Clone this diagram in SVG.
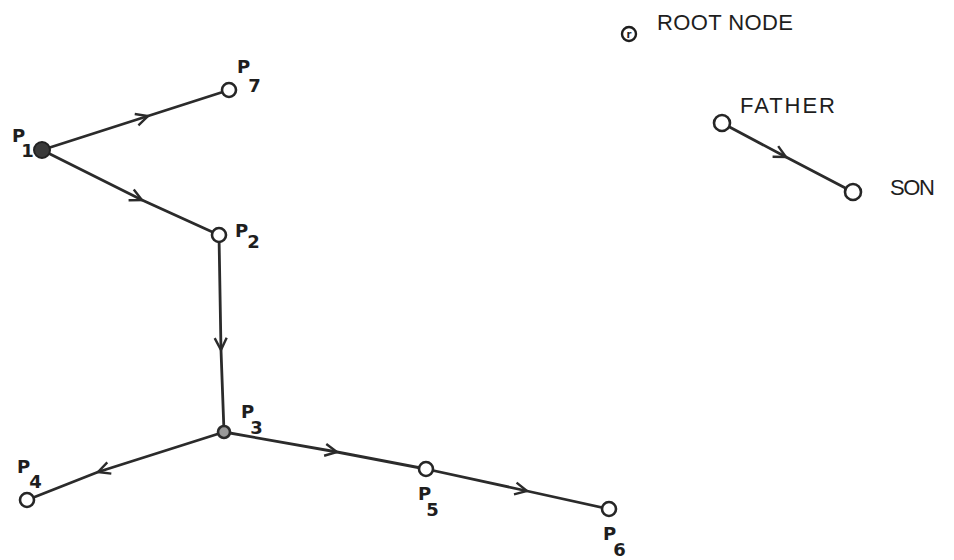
<svg xmlns="http://www.w3.org/2000/svg" width="954" height="560" viewBox="0 0 954 560">
  <style>
    .edge { fill: none; stroke: #2b2b2b; stroke-width: 2.8; stroke-linecap: round; marker-mid: url(#chev); }
    .node { fill: #ffffff; stroke: #262626; stroke-width: 2.6; }
    .root { fill: #3a3a3a; stroke: #222222; stroke-width: 2; }
    .hub { fill: #9a9a9a; stroke: #2b2b2b; stroke-width: 2.6; }
    .lbl { font-family: "DejaVu Sans", sans-serif; font-weight: bold; font-size: 18px; fill: #1e1e1e; }
    .leg { font-family: "Liberation Sans", "DejaVu Sans", sans-serif; font-size: 22px; fill: #1e1e1e; }
  </style>
  <defs>
    <marker id="chev" markerUnits="userSpaceOnUse" viewBox="-14 -8 16 16" refX="0" refY="0" markerWidth="16" markerHeight="16" orient="auto">
      <path d="M-12,-6 L0,0 L-12,6" fill="none" stroke="#2b2b2b" stroke-width="2.4" stroke-linejoin="miter"/>
    </marker>
  </defs>

  <rect width="954" height="560" fill="#ffffff"/>

  <!-- connectors: father to son, chevron at the middle vertex -->
  <g id="connectors">
    <path class="edge" d="M42,150 L148,116 L229,90"/>
    <path class="edge" d="M42,150 L142,200 L219,235"/>
    <path class="edge" d="M219,235 L221,350 L224,432"/>
    <path class="edge" d="M224,432 L98,472 L27,500"/>
    <path class="edge" d="M224,432 L337,452 L426,469"/>
    <path class="edge" d="M426,469 L527,491 L609,509"/>
    <path class="edge" d="M722,123 L786,157 L853,192"/>
  </g>

  <g id="p1">
    <circle class="root" cx="42" cy="150" r="8"/>
    <text class="lbl" x="12" y="142">P<tspan dx="-4" dy="15">1</tspan></text>
  </g>
  <g id="p7">
    <circle class="node" cx="229" cy="90" r="7"/>
    <text class="lbl" x="237" y="73">P<tspan dx="-2" dy="19">7</tspan></text>
  </g>
  <g id="p2">
    <circle class="node" cx="219" cy="235" r="7"/>
    <text class="lbl" x="235" y="237">P<tspan dx="-1" dy="11">2</tspan></text>
  </g>
  <g id="p3">
    <circle class="hub" cx="224" cy="432" r="6"/>
    <text class="lbl" x="241" y="418">P<tspan dx="-4" dy="16">3</tspan></text>
  </g>
  <g id="p4">
    <circle class="node" cx="27" cy="500" r="7"/>
    <text class="lbl" x="17" y="473">P<tspan dx="-1" dy="15">4</tspan></text>
  </g>
  <g id="p5">
    <circle class="node" cx="426" cy="469" r="7"/>
    <text class="lbl" x="418" y="500">P<tspan dx="-5" dy="16">5</tspan></text>
  </g>
  <g id="p6">
    <circle class="node" cx="609" cy="509" r="7"/>
    <text class="lbl" x="603" y="540">P<tspan dx="-3" dy="16">6</tspan></text>
  </g>

  <!-- legend -->
  <g id="legend-root">
    <circle cx="629" cy="34" r="7" fill="#ffffff" stroke="#1e1e1e" stroke-width="2.4"/>
    <text x="629" y="38" text-anchor="middle" font-family="DejaVu Sans, sans-serif" font-weight="bold" font-size="10" fill="#1e1e1e">r</text>
    <text class="leg" x="657" y="30" textLength="136" lengthAdjust="spacing">ROOT NODE</text>
  </g>
  <g id="legend-father">
    <circle class="node" cx="722" cy="123" r="8"/>
    <text class="leg" x="740" y="113" textLength="95" lengthAdjust="spacing">FATHER</text>
  </g>
  <g id="legend-son">
    <circle class="node" cx="853" cy="192" r="8"/>
    <text class="leg" x="890" y="195" textLength="45" lengthAdjust="spacing">SON</text>
  </g>
</svg>
